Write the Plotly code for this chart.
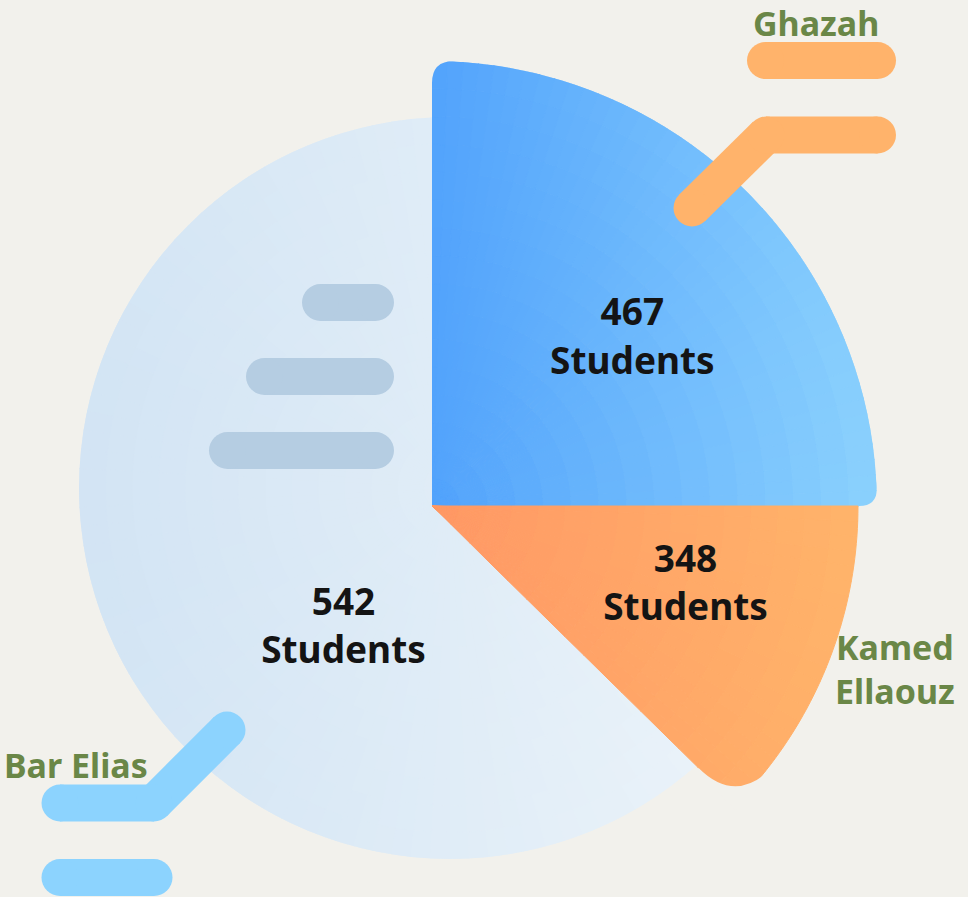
import numpy as np
import plotly.graph_objects as go

# ---------------- data ----------------
regions = ["Bar Elias", "Ghazah", "Kamed Ellaouz"]
students = [542, 467, 348]
region_labels = ["Bar Elias", "Ghazah", "Kamed<br>Ellaouz"]
value_labels = [f"{v}<br>Students" for v in students]

# ---------------- style / layout constants ----------------
W, H = 968, 897
BG = "#F2F1EC"
GREEN = "#6A8747"
TEXT = "#141414"
FONT = "Noto Sans"

# slice designs: angular span (deg, ccw from east), radius (px), gradient colours
SLICE_STYLE = {
    "Bar Elias":     dict(th=(90, 315), r=371, cols=("#D2E4F4", "#EEF5FA"), xr=(79, 821)),
    "Ghazah":        dict(th=(0, 90),   r=445, cols=("#52A3FC", "#8BD1FD"), xr=(432, 877)),
    "Kamed Ellaouz": dict(th=(-44.5, 0), r=426, cols=("#FF9865", "#FFB46A"), xr=(432, 858)),
}
CENTER_LIGHT = (450, 488)   # px centre of the Bar Elias disc
CENTER_MAIN = (432, 506)    # px apex of the two highlighted slices
R_MAIN = 445
SECTOR_MAIN = [-45, 90]
VALUE_POS = {"Bar Elias": (177, 233.0), "Ghazah": (260, 39.6), "Kamed Ellaouz": (266, -17.6)}


def hex2rgb(h):
    h = h.lstrip("#")
    return np.array([int(h[i:i + 2], 16) for i in (0, 2, 4)], dtype=float)


def gradient_cells(style, cx, nth, nr):
    """Split one slice into small polar cells so a left-to-right gradient can be shown."""
    th0, th1 = style["th"]
    rmax = style["r"]
    xl, xr = style["xr"]
    c0, c1 = hex2rgb(style["cols"][0]), hex2rgb(style["cols"][1])
    th_e = np.linspace(th0, th1, nth + 1)
    r_e = np.linspace(0, rmax, nr + 1)
    thetas, widths, bases, rs, cols = [], [], [], [], []
    for i in range(nth):
        tm = 0.5 * (th_e[i] + th_e[i + 1])
        for j in range(nr):
            rm = 0.5 * (r_e[j] + r_e[j + 1])
            x = cx + rm * np.cos(np.radians(tm))
            t = float(np.clip((x - xl) / (xr - xl), 0, 1))
            c = c0 + (c1 - c0) * t
            thetas.append(tm)
            widths.append(th_e[i + 1] - th_e[i])
            bases.append(r_e[j])
            rs.append(r_e[j + 1] - r_e[j])
            cols.append(f"rgb({c[0]:.0f},{c[1]:.0f},{c[2]:.0f})")
    return thetas, widths, bases, rs, cols


fig = go.Figure()

# ---- slices ----
for name, sub, cx, nth, nr in [
    ("Bar Elias", "polar", CENTER_LIGHT[0], 75, 14),
    ("Ghazah", "polar2", CENTER_MAIN[0], 45, 16),
    ("Kamed Ellaouz", "polar2", CENTER_MAIN[0], 22, 16),
]:
    th, wd, bs, rr, cl = gradient_cells(SLICE_STYLE[name], cx, nth, nr)
    fig.add_trace(go.Barpolar(
        theta=th, width=wd, base=bs, r=rr, subplot=sub, name=name,
        marker=dict(color=cl, line=dict(color=cl, width=1)),
        hoverinfo="skip", showlegend=False,
    ))

# ---- value labels ----
for i, name in enumerate(regions):
    r, t = VALUE_POS[name]
    fig.add_trace(go.Scatterpolar(
        r=[r], theta=[t], mode="text", text=[value_labels[i]],
        textposition="middle center",
        textfont=dict(family=FONT, size=37, color=TEXT, weight="bold"),
        subplot="polar" if name == "Bar Elias" else "polar2",
        cliponaxis=False, hoverinfo="skip", showlegend=False,
    ))


# ---- helpers in pixel space ----
def px(x):
    return x / W


def py(y):
    return 1 - y / H


shapes = []


def stroke(points, color, w=37):
    """Thick rounded stroke: line segments plus round caps/joins."""
    for (x0, y0), (x1, y1) in zip(points[:-1], points[1:]):
        shapes.append(dict(type="line", xref="paper", yref="paper",
                           x0=px(x0), y0=py(y0), x1=px(x1), y1=py(y1),
                           line=dict(color=color, width=w), layer="above"))
    for (x, y) in points:
        shapes.append(dict(type="circle", xref="paper", yref="paper",
                           x0=px(x - w / 2), x1=px(x + w / 2),
                           y0=py(y + w / 2), y1=py(y - w / 2),
                           fillcolor=color, line=dict(width=0), layer="above"))


def round_corner(v, u1, u2, d, pad=4):
    """Background-coloured chip that rounds off a sharp slice corner."""
    v = np.array(v, float)
    u1 = np.array(u1, float)
    u2 = np.array(u2, float)
    n1 = -(u2 - np.dot(u2, u1) * u1)
    n1 /= np.linalg.norm(n1)
    n2 = -(u1 - np.dot(u1, u2) * u2)
    n2 /= np.linalg.norm(n2)
    out = -(u1 + u2) / np.linalg.norm(u1 + u2)
    p1 = v + d * u1
    p2 = v + d * u2
    pts = [p1 + n1 * pad, v + n1 * pad - u1 * pad, v + out * pad * 1.5,
           v + n2 * pad - u2 * pad, p2 + n2 * pad, p2]
    path = f"M{px(p1[0])},{py(p1[1])} " + " ".join(
        f"L{px(p[0])},{py(p[1])}" for p in pts) + f" Q{px(v[0])},{py(v[1])} {px(p1[0])},{py(p1[1])} Z"
    shapes.append(dict(type="path", xref="paper", yref="paper", path=path,
                       fillcolor=BG, line=dict(width=0), layer="above"))


# rounded corners of the highlighted slices
cxm, cym = CENTER_MAIN
rb = SLICE_STYLE["Ghazah"]["r"]
round_corner((cxm, cym - rb), (0, 1), (1, 0), 22)
round_corner((cxm + rb, cym), (-1, 0), (0, -1), 18)
ro = SLICE_STYLE["Kamed Ellaouz"]["r"]
a = np.radians(-SLICE_STYLE["Kamed Ellaouz"]["th"][0])
tip = (cxm + ro * np.cos(a), cym + ro * np.sin(a))
round_corner(tip, (-np.cos(a), -np.sin(a)), (np.sin(a), -np.cos(a)), 52)

GREY = "#B5CDE2"
ORANGE = "#FFB36B"
SKY = "#8CD3FE"
stroke([(320.5, 302.5), (375.5, 302.5)], GREY)
stroke([(264.5, 376.5), (375.5, 376.5)], GREY)
stroke([(227.5, 450.5), (375.5, 450.5)], GREY)
stroke([(765.5, 60.5), (877.5, 60.5)], ORANGE)
stroke([(692, 208), (766, 135), (877.5, 135)], ORANGE)
stroke([(227, 730), (154, 803), (60, 803)], SKY)
stroke([(60, 877.5), (154, 877.5)], SKY)

# ---- region labels ----
annotations = []
for txt, (x, y) in zip(region_labels, [(76, 765), (816, 23), (895, 669)]):
    annotations.append(dict(text=txt, x=px(x), y=py(y), xref="paper", yref="paper",
                            showarrow=False, xanchor="center", yanchor="middle",
                            font=dict(family=FONT, size=34, color=GREEN, weight="bold")))

# polar2 domain: box around the sector [-45, 90] so that its apex sits at CENTER_MAIN
s_low = np.sin(np.radians(-SECTOR_MAIN[0]))
dom2_x = [CENTER_MAIN[0] / W, (CENTER_MAIN[0] + R_MAIN) / W]
dom2_y = [1 - (CENTER_MAIN[1] + R_MAIN * s_low) / H, 1 - (CENTER_MAIN[1] - R_MAIN) / H]

hidden = dict(visible=False)
fig.update_layout(
    width=W, height=H,
    margin=dict(l=0, r=0, t=0, b=0),
    paper_bgcolor=BG, plot_bgcolor=BG,
    showlegend=False,
    shapes=shapes,
    annotations=annotations,
    polar=dict(
        domain=dict(x=[(CENTER_LIGHT[0] - 371) / W, (CENTER_LIGHT[0] + 371) / W],
                    y=[(H - CENTER_LIGHT[1] - 371) / H, (H - CENTER_LIGHT[1] + 371) / H]),
        bgcolor="rgba(0,0,0,0)", barmode="overlay",
        radialaxis=dict(range=[0, 371], **hidden),
        angularaxis=dict(rotation=0, direction="counterclockwise", **hidden),
    ),
    polar2=dict(
        domain=dict(x=dom2_x, y=dom2_y),
        sector=SECTOR_MAIN,
        bgcolor="rgba(0,0,0,0)", barmode="overlay",
        radialaxis=dict(range=[0, R_MAIN], **hidden),
        angularaxis=dict(rotation=0, direction="counterclockwise", **hidden),
    ),
)

fig.write_html(
    "out.html",
    config={"displayModeBar": False},
    post_script="document.body.style.margin='0';document.body.style.overflow='hidden';",
)
